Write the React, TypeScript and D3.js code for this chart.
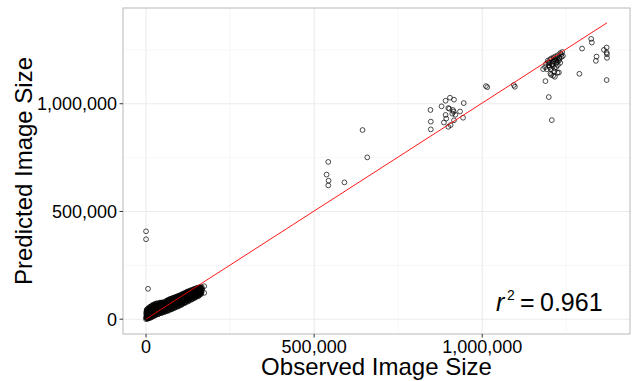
import React from "react";
import * as d3 from "d3";

// observed / predicted image size, in thousands
const blobObserved = [
  0, 1, 0, 2, 1, 0, 3, 2, 4, 5, 3,
  8, 10, 9, 11, 10, 12,
  18, 20, 21, 19, 22, 20,
  28, 30, 31, 29, 32, 30,
  38, 40, 41, 39, 42, 40,
  48, 50, 51, 49, 52, 50,
  58, 60, 61, 59, 62, 60,
  68, 70, 71, 69, 72, 70,
  78, 80, 81, 79, 82, 80,
  88, 90, 91, 89, 92, 90,
  98, 100, 101, 99, 102, 100,
  108, 110, 111, 109, 112, 110,
  118, 120, 121, 119, 122, 120,
  128, 130, 131, 129, 132, 130,
  138, 140, 141, 139, 142, 140,
  148, 150, 151, 149, 152, 150,
  158, 160, 161, 159, 162, 160,
  165, 166, 167, 166,
  5, 6, 4, 5, 6, 4, 5,
  15, 14, 16, 15, 14, 16, 15,
  25, 24, 26, 25, 24, 26,
  35, 34, 36, 35, 34, 36,
  45, 44, 46, 45, 44, 46,
  55, 54, 56, 55, 54, 56,
  65, 64, 66, 65, 64, 66,
  75, 74, 76, 75, 74, 76,
  85, 84, 86, 85, 84, 86,
  95, 94, 96, 95, 94, 96,
  105, 104, 106, 105, 104, 106,
  115, 114, 116, 115, 114, 116,
  125, 124, 126, 125, 124, 126,
  135, 134, 136, 135, 134, 136,
  145, 144, 146, 145, 144, 146,
  155, 154, 156, 155, 154, 156,
  163, 164, 163, 164, 163,
];
const blobPredicted = [
  0, 5, 10, 15, 22, 30, 38, 44, 8, 3, 27,
  4, 12, 22, 32, 45, 55,
  12, 20, 32, 44, 56, 65,
  20, 28, 40, 52, 63, 72,
  26, 35, 46, 58, 68, 76,
  30, 40, 52, 62, 72, 78,
  36, 46, 56, 66, 76, 84,
  42, 52, 62, 72, 82, 92,
  48, 58, 68, 80, 90, 98,
  55, 66, 76, 86, 96, 104,
  62, 72, 82, 92, 102, 110,
  70, 80, 90, 100, 108, 116,
  78, 88, 98, 108, 116, 124,
  86, 96, 106, 114, 122, 130,
  94, 104, 112, 120, 128, 136,
  102, 110, 118, 126, 134, 142,
  110, 118, 126, 134, 142, 148,
  122, 132, 140, 148,
  2, 9, 17, 25, 33, 40, 48,
  8, 16, 24, 34, 42, 50, 60,
  16, 24, 34, 46, 56, 66,
  22, 30, 40, 50, 60, 70,
  28, 36, 46, 56, 66, 74,
  33, 42, 50, 58, 68, 76,
  38, 48, 58, 68, 78, 86,
  45, 54, 64, 74, 84, 94,
  52, 62, 72, 82, 92, 100,
  58, 68, 78, 88, 98, 106,
  66, 76, 86, 96, 104, 112,
  74, 84, 94, 104, 112, 120,
  82, 92, 102, 110, 118, 126,
  90, 100, 108, 116, 124, 132,
  98, 106, 114, 122, 130, 138,
  106, 114, 122, 130, 138, 145,
  116, 124, 132, 140, 146,
];

// more of the dense cluster, one column of predicted values per observed value
const fillObserved = [
  2, 7, 12, 17, 22, 27, 32, 37, 42, 47, 52, 57, 62, 67, 72, 77, 82,
  87, 92, 97, 102, 107, 112, 117, 122, 127, 132, 137, 142, 147, 152, 157, 162,
];
const fillPredicted = [
  [6, 13, 20, 35, 41],
  [6, 14, 22, 30, 37, 44, 52],
  [6, 14, 20, 28, 38, 48, 58],
  [10, 18, 28, 38, 48, 58, 62],
  [14, 22, 30, 38, 50, 60, 68],
  [18, 26, 36, 44, 54, 64, 70],
  [24, 32, 44, 48, 56, 66, 74],
  [24, 32, 42, 52, 62, 72],
  [30, 38, 50, 60, 70, 77],
  [32, 44, 54, 60, 70, 77],
  [34, 44, 48, 60, 70, 78],
  [38, 44, 54, 64, 72, 80],
  [40, 50, 62, 72, 80, 87],
  [44, 50, 60, 70, 80, 90],
  [46, 56, 66, 78, 88, 94],
  [50, 60, 70, 78, 88, 96],
  [52, 62, 74, 84, 94, 100],
  [58, 64, 74, 84, 94, 102],
  [60, 70, 80, 90, 100, 106],
  [64, 74, 84, 94, 104, 108],
  [66, 76, 86, 98, 106, 112],
  [72, 80, 92, 102, 110, 116],
  [76, 86, 96, 106, 114, 120],
  [80, 90, 100, 110, 118, 122],
  [84, 94, 104, 112, 120, 128],
  [88, 98, 108, 118, 126, 130],
  [92, 102, 110, 118, 126, 134],
  [96, 106, 116, 124, 132, 136],
  [100, 108, 118, 126, 134, 140],
  [104, 112, 120, 128, 136, 142],
  [108, 116, 124, 132, 140, 146],
  [112, 120, 128, 136, 144, 147],
  [118, 126, 136, 144, 148],
];

const outerObserved = [
  0, 0, 6, 173, 173, 161,
  542, 537, 543, 542, 590, 644, 658,
  846, 847, 847, 879, 891, 904, 916, 945, 899, 902, 913, 915, 934, 911, 920,
  891, 893, 943, 886, 916, 899, 906,
  1011, 1015, 1094, 1097,
  1181, 1188, 1198, 1207, 1205, 1224, 1228, 1232,
  1190, 1195, 1200, 1205, 1210, 1212, 1215, 1218, 1220, 1222, 1225, 1228, 1230,
  1232, 1235, 1238, 1240, 1200, 1205, 1210, 1215, 1208, 1198, 1214, 1220, 1225,
  1203, 1187, 1192, 1211, 1216, 1196, 1202, 1207, 1213, 1219, 1223, 1230, 1236,
  1289, 1297, 1324, 1326, 1340, 1338, 1362, 1370, 1370, 1371, 1371, 1370,
];
const outerPredicted = [
  408, 371, 141, 153, 122, 134,
  730, 671, 643, 621, 635, 878, 751,
  971, 917, 881, 988, 1014, 1028, 1019, 1003, 980, 977, 971, 963, 964, 954, 949,
  948, 931, 935, 913, 923, 893, 901,
  1082, 1077, 1087, 1079,
  1161, 1105, 1031, 924, 1134, 1144, 1145, 1235,
  1185, 1200, 1190, 1210, 1195, 1215, 1205, 1220, 1190, 1210, 1225, 1200, 1215,
  1190, 1230, 1240, 1222, 1170, 1160, 1175, 1165, 1185, 1178, 1150, 1170, 1180,
  1140, 1170, 1160, 1130, 1125, 1192, 1205, 1180, 1198, 1202, 1195, 1208, 1218,
  1139, 1256, 1301, 1284, 1219, 1199, 1250, 1261, 1238, 1213, 1230, 1110,
];

// linear fit, predicted = intercept + slope * observed (thousands)
const fitIntercept = 0.5;
const fitSlope = 1.003;
const rSquared = "0.961";

const xTicks = [0, 500000, 1000000];
const yTicks = [0, 500000, 1000000];
const minorTicks = [250000, 750000, 1250000];

const W = 633;
const H = 381;
const panel = { left: 123, right: 630, top: 8, bottom: 334 };

const points = [
  ...blobObserved.map((o, i) => ({ x: o * 1000, y: blobPredicted[i] * 1000 })),
  ...fillObserved.flatMap((o, i) => fillPredicted[i].map((p) => ({ x: o * 1000, y: p * 1000 }))),
  ...outerObserved.map((o, i) => ({ x: o * 1000, y: outerPredicted[i] * 1000 })),
];

const xExt = d3.extent(points, (d) => d.x) as [number, number];
const lineData = xExt.map((x) => ({ x, y: (fitIntercept + (fitSlope * x) / 1000) * 1000 }));
const yExt = d3.extent([...points, ...lineData], (d) => d.y) as [number, number];
const pad = (e: [number, number]) => {
  const p = (e[1] - e[0]) * 0.05;
  return [e[0] - p, e[1] + p];
};

const fmt = d3.format(",");
const font = "'Liberation Sans', Arial, sans-serif";

export default function App() {
  const x = d3.scaleLinear().domain(pad(xExt)).range([panel.left, panel.right]);
  const y = d3.scaleLinear().domain(pad(yExt)).range([panel.bottom, panel.top]);
  const line = d3
    .line<{ x: number; y: number }>()
    .x((d) => x(d.x))
    .y((d) => y(d.y));

  return (
    <svg
      width={W}
      height={H}
      style={{ position: "absolute", left: 0, top: 0, display: "block", background: "#fff" }}
      fontFamily={font}
    >
      <rect x={panel.left} y={panel.top} width={panel.right - panel.left} height={panel.bottom - panel.top} fill="#fff" />
      {/* grid */}
      {minorTicks.map((t) => (
        <g key={"m" + t}>
          <line x1={x(t)} x2={x(t)} y1={panel.top} y2={panel.bottom} stroke="#f2f2f2" strokeWidth={0.6} />
          <line x1={panel.left} x2={panel.right} y1={y(t)} y2={y(t)} stroke="#f2f2f2" strokeWidth={0.6} />
        </g>
      ))}
      {xTicks.map((t) => (
        <line key={"gx" + t} x1={x(t)} x2={x(t)} y1={panel.top} y2={panel.bottom} stroke="#ebebeb" strokeWidth={1.1} />
      ))}
      {yTicks.map((t) => (
        <line key={"gy" + t} x1={panel.left} x2={panel.right} y1={y(t)} y2={y(t)} stroke="#ebebeb" strokeWidth={1.1} />
      ))}

      {/* points */}
      {points.map((d, i) => (
        <circle key={i} cx={x(d.x)} cy={y(d.y)} r={2.4} fill="none" stroke="#000" strokeWidth={0.7} />
      ))}

      {/* fit line */}
      <path d={line(lineData) || ""} fill="none" stroke="#ff0000" strokeWidth={0.9} />

      <rect
        x={panel.left}
        y={panel.top}
        width={panel.right - panel.left}
        height={panel.bottom - panel.top}
        fill="none"
        stroke="#b8b8b8"
        strokeWidth={1}
      />

      {/* x axis */}
      {xTicks.map((t) => (
        <g key={"xt" + t}>
          <line x1={x(t)} x2={x(t)} y1={panel.bottom} y2={panel.bottom + 3.5} stroke="#333" strokeWidth={1} />
          <text x={x(t)} y={352.5} textAnchor="middle" fontSize={18} fill="#000">
            {fmt(t)}
          </text>
        </g>
      ))}
      {/* y axis */}
      {yTicks.map((t) => (
        <g key={"yt" + t}>
          <line x1={panel.left - 3.5} x2={panel.left} y1={y(t)} y2={y(t)} stroke="#333" strokeWidth={1} />
          <text x={117} y={y(t)} dy="0.36em" textAnchor="end" fontSize={18} fill="#000">
            {fmt(t)}
          </text>
        </g>
      ))}

      <text x={(panel.left + panel.right) / 2} y={374.5} textAnchor="middle" fontSize={24} fill="#000">
        Observed Image Size
      </text>
      <text
        transform={`translate(32,${(panel.top + panel.bottom) / 2}) rotate(-90)`}
        textAnchor="middle"
        fontSize={24}
        fill="#000"
      >
        Predicted Image Size
      </text>

      <text y={311} fontSize={25} fill="#000">
        <tspan x={496} fontStyle="italic">r</tspan>
        <tspan x={507} y={300} fontSize={14}>2</tspan>
        <tspan x={520} y={311}>=</tspan>
        <tspan x={540}>{rSquared}</tspan>
      </text>
    </svg>
  );
}
